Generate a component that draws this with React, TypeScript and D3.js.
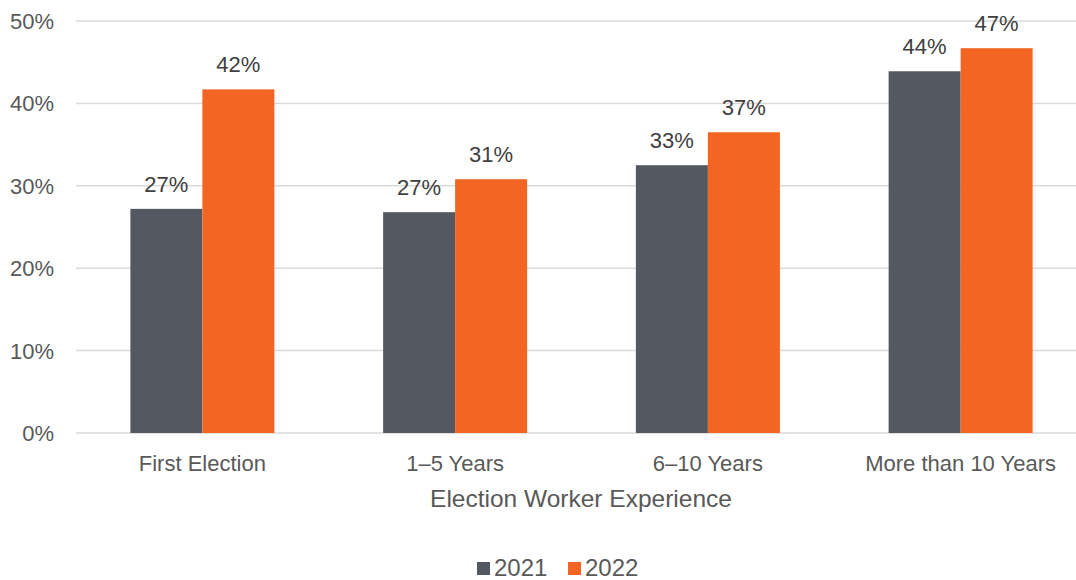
import React from "react";
import * as d3 from "d3";

const categories = ["First Election", "1–5 Years", "6–10 Years", "More than 10 Years"];
const series = ["2021", "2022"];
const values2021 = [27.2, 26.8, 32.5, 43.9];
const values2022 = [41.7, 30.8, 36.5, 46.7];
const yTicks = [0, 10, 20, 30, 40, 50];
const colors = ["#545861", "#F26522"];

const W = 1076;
const H = 580;
const FONT = "'Liberation Sans', Arial, sans-serif";

export default function App() {
  const x = d3.scaleBand<string>().domain(categories).range([76, 1087]).paddingInner(0).paddingOuter(0);
  const y = d3.scaleLinear().domain([0, 50]).range([433, 21]);
  const groupW = 144;
  const x1 = d3.scaleBand<string>().domain(series).range([0, groupW]);
  const data = [values2021, values2022];

  return (
    <svg width={W} height={H} style={{ position: "absolute", left: 0, top: 0 }} fontFamily={FONT}>
      <rect width={W} height={H} fill="#fff" />
      {yTicks.map((t) => (
        <g key={t}>
          <line x1={76} x2={1087} y1={y(t)} y2={y(t)} stroke="#d9d9d9" strokeWidth={1.5} />
          <text x={54} y={y(t) + 8} textAnchor="end" fontSize={22} fill="#595959">
            {t}%
          </text>
        </g>
      ))}
      {categories.map((c, i) => {
        const cx = (x(c) as number) + x.bandwidth() / 2;
        const gx = cx - groupW / 2;
        return (
          <g key={c}>
            {series.map((s, si) => {
              const v = data[si][i];
              const bx = gx + (x1(s) as number);
              return (
                <g key={s}>
                  <rect x={bx} y={y(v)} width={x1.bandwidth()} height={y(0) - y(v)} fill={colors[si]} />
                  <text x={bx + x1.bandwidth() / 2} y={y(v) - 17} textAnchor="middle" fontSize={22} fill="#404040">
                    {Math.round(v)}%
                  </text>
                </g>
              );
            })}
            <text x={cx} y={471} textAnchor="middle" fontSize={22} fill="#595959">
              {c}
            </text>
          </g>
        );
      })}
      <text x={581} y={507} textAnchor="middle" fontSize={24.5} fill="#595959">
        Election Worker Experience
      </text>
      {series.map((s, si) => {
        const lx = 477 + si * 91;
        return (
          <g key={s}>
            <rect x={lx} y={562} width={13} height={13} fill={colors[si]} />
            <text x={lx + 17} y={576} fontSize={24} fill="#595959">
              {s}
            </text>
          </g>
        );
      })}
    </svg>
  );
}
